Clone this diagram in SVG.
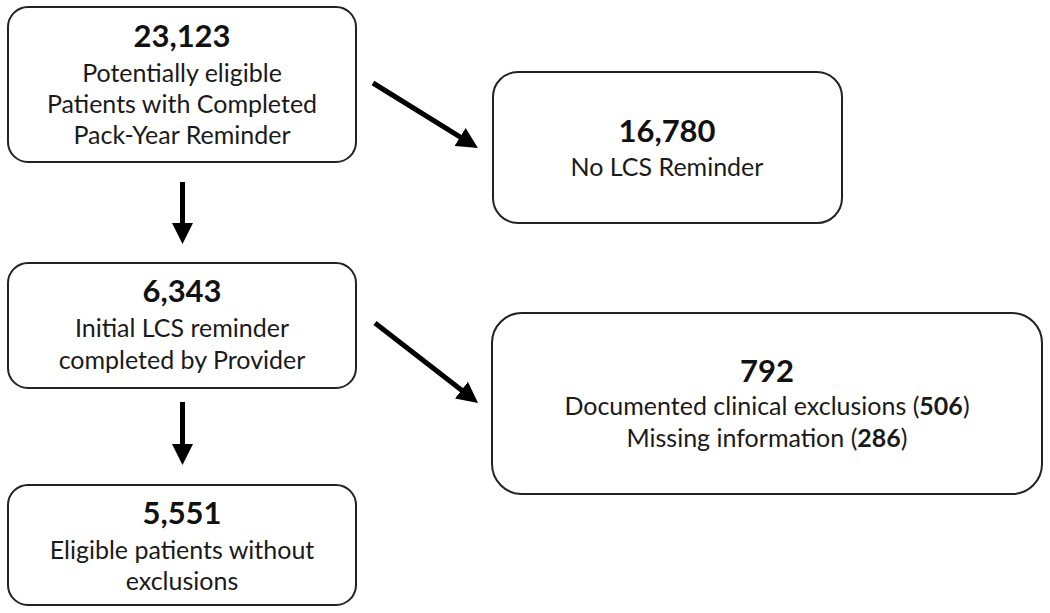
<svg xmlns="http://www.w3.org/2000/svg" width="1050" height="613" viewBox="0 0 1050 613">
<style>
.box{fill:#fff;stroke:#222;stroke-width:2}
.num{font-family:Lato,"Liberation Sans",sans-serif;font-weight:bold;font-size:31px;fill:#111;text-anchor:middle}
.lbl{font-family:Lato,"Liberation Sans",sans-serif;font-size:25px;fill:#1a1a1a;text-anchor:middle}
.b{font-weight:bold}
.arr{stroke:#000;stroke-width:5;fill:none;marker-end:url(#ah)}
</style>
<defs>
<marker id="ah" markerUnits="userSpaceOnUse" markerWidth="21" markerHeight="21" refX="6" refY="10.5" orient="auto">
<path d="M0,0 L21,10.5 L0,21 z" fill="#000"/>
</marker>
</defs>
<rect width="1050" height="613" fill="#fff"/>
<g id="connectors">
<line class="arr" x1="182.5" y1="182" x2="182.5" y2="229"/>
<line class="arr" x1="182.5" y1="402" x2="182.5" y2="450"/>
<line class="arr" x1="373" y1="83" x2="465.2" y2="140.1"/>
<line class="arr" x1="375" y1="323" x2="466.2" y2="393.8"/>
</g>
<g id="n1">
<rect class="box" x="8" y="7" width="348" height="155" rx="20"/>
<text class="num" x="182" y="47">23,123</text>
<text class="lbl" x="182" y="82">Potentially eligible</text>
<text class="lbl" x="182" y="113">Patients with Completed</text>
<text class="lbl" x="182" y="144">Pack-Year Reminder</text>
</g>
<g id="n2">
<rect class="box" x="493" y="72" width="349" height="151" rx="25"/>
<text class="num" x="667" y="142">16,780</text>
<text class="lbl" x="667" y="176">No LCS Reminder</text>
</g>
<g id="n3">
<rect class="box" x="8" y="263" width="348" height="125" rx="20"/>
<text class="num" x="182" y="302">6,343</text>
<text class="lbl" x="182" y="337">Initial LCS reminder</text>
<text class="lbl" x="182" y="369">completed by Provider</text>
</g>
<g id="n4">
<rect class="box" x="492" y="313" width="550" height="181" rx="30"/>
<text class="num" x="767" y="382">792</text>
<text class="lbl" x="767" y="415">Documented clinical exclusions (<tspan class="b">506</tspan>)</text>
<text class="lbl" x="767" y="447">Missing information (<tspan class="b">286</tspan>)</text>
</g>
<g id="n5">
<rect class="box" x="8" y="485" width="348" height="120" rx="20"/>
<text class="num" x="182" y="524">5,551</text>
<text class="lbl" x="182" y="559">Eligible patients without</text>
<text class="lbl" x="182" y="590">exclusions</text>
</g>
</svg>
